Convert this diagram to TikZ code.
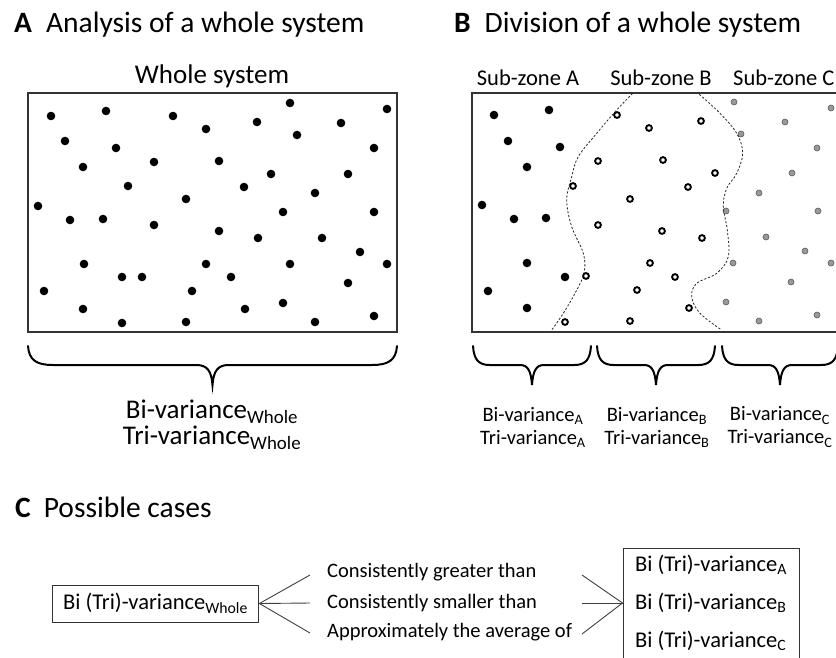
\documentclass[tikz,border=0pt]{standalone}
\usepackage{fontspec}
\setmainfont{Carlito}
\begin{document}
\begin{tikzpicture}[x=1pt,y=-1pt,
	paneltitle/.style={anchor=base west,inner sep=0pt,font=\fontsize{29.5}{33}\selectfont},
	zonelabel/.style={anchor=base,inner sep=0pt,font=\fontsize{22.5}{26}\selectfont},
	zonebox/.style={draw=black!80,line width=1.1pt},
	divider/.style={black!85,line width=.8pt,dash pattern=on 2.2pt off 1.8pt},
	braceline/.style={line width=2pt,line cap=round},
	varbig/.style={align=center,inner sep=0pt,font=\fontsize{27}{26}\selectfont},
	varsmall/.style={align=center,inner sep=0pt,font=\fontsize{20.5}{23}\selectfont},
	casebox/.style={draw=black!80,line width=1pt,font=\fontsize{22.5}{38}\selectfont},
	caselabel/.style={anchor=west,inner sep=0pt,font=\fontsize{20.5}{24}\selectfont},
	link/.style={black!75,line width=.9pt}]
	\useasboundingbox (0,0) rectangle (836,657);
	\clip (0,0) rectangle (836,657);

	\node[paneltitle] (titleA) at (14,32) {\textbf{A}\hspace{14pt}Analysis of a whole system};
	\node[paneltitle] (titleB) at (454,32) {\textbf{B}\hspace{14pt}Division of a whole system};
	\node[paneltitle] (titleC) at (15,517) {\textbf{C}\hspace{13pt}Possible cases};

	\node[zonelabel,font=\fontsize{27}{30}\selectfont] (whole) at (212,83) {Whole system};
	\node[zonelabel] (zoneA) at (528,85) {Sub-zone A};
	\node[zonelabel] (zoneB) at (661,85) {Sub-zone B};
	\node[zonelabel,anchor=base west] (zoneC) at (733,85) {Sub-zone C};

	\draw[zonebox] (28,93) rectangle (397,332);
	\draw[zonebox] (472,93) rectangle (850,332);

	\foreach \x/\y in {51/116,106/111,173/116,290/103,387/109,206/129,257/122,341/123,297/135,
		65/141,116/148,374/148,154/162,219/161,83/167,271/174,348/174,128/186,244/187,315/193,
		186/199,38/206,283/212,374/212,70/220,103/219,154/225,219/231,258/238,322/238,360/252,
		84/264,206/264,290/264,387/264,122/277,142/277,231/277,44/291,192/291,348/283,283/303,
		83/309,245/309,374/316,122/323,186/322,315/322}
		\fill (\x,\y) circle (4.3pt);

	\foreach \x/\y in {494/115,549/110,508/141,560/147,527/167,482/205,514/219,546/218,
		527/263,565/277,488/291,527/308}
		\fill (\x,\y) circle (4.3pt);
	\foreach \x/\y in {617/115,649/128,701/121,598/161,663/160,715/173,573/186,688/187,630/199,
		598/225,662/231,702/238,650/263,586/276,675/277,637/290,689/308,565/322,630/321}
		\draw[line width=1.9pt,fill=white] (\x,\y) circle (2.9pt);
	\foreach \x/\y in {734/102,831/108,785/122,741/134,817/148,792/173,759/193,726/211,818/211,
		766/237,805/251,733/263,831/263,791/282,726/302,759/321,817/315}
		\draw[black!65,line width=.6pt,fill=black!40] (\x,\y) circle (3pt);

	\draw[divider] plot[smooth,tension=.6] coordinates {(632.7,93.3) (616.7,110) (596.7,133.3)
		(578.3,156.7) (571.7,176.7) (566.7,200) (571.7,226.7) (583.3,253.3) (584,273.3)
		(575,293.3) (563.3,313.3) (551.7,330)};
	\draw[divider] plot[smooth,tension=.6] coordinates {(699.3,94.3) (720,113.3) (736.7,133.3)
		(742.7,153.3) (736.7,173.3) (726.7,188.3) (723.3,206.7) (727.3,230) (728.3,256.7)
		(716.7,273.3) (696.7,283.3) (691.7,296.7) (700,313.3) (721.7,330)};

	\foreach \l/\r/\e/\t in {28/397/25/16,473/591/17/12,597/715/17/12,722/838/17/12}{
		\pgfmathsetmacro\m{(\l+\r)/2}
		\draw[braceline] (\l,346) .. controls (\l+1,360) and (\l+\e/3,365) .. (\l+\e,365)
			-- (\m-\t,365) .. controls (\m-\t/3,365) and (\m-1,371) .. (\m,385)
			.. controls (\m+1,371) and (\m+\t/3,365) .. (\m+\t,365)
			-- (\r-\e,365) .. controls (\r-\e/3,365) and (\r-1,360) .. (\r,346);
	}

	\node[varbig] (varWhole) at (212,425) {Bi-variance\textsubscript{Whole}\\Tri-variance\textsubscript{Whole}};
	\node[varsmall] (varA) at (533,427) {Bi-variance\textsubscript{A}\\Tri-variance\textsubscript{A}};
	\node[varsmall] (varB) at (657,427) {Bi-variance\textsubscript{B}\\Tri-variance\textsubscript{B}};
	\node[varsmall] (varC) at (780,427) {Bi-variance\textsubscript{C}\\Tri-variance\textsubscript{C}};

	\node[casebox,minimum height=37pt,inner xsep=11pt] (wholeVar) at (155.5,603.5) {Bi (Tri)-variance\textsubscript{Whole}};
	\node[casebox,align=left,minimum width=176pt,minimum height=110pt] (subVar) at (711,603) {Bi (Tri)-variance\textsubscript{A}\\Bi (Tri)-variance\textsubscript{B}\\Bi (Tri)-variance\textsubscript{C}};

	\node[caselabel] (greater) at (327,572) {Consistently greater than};
	\node[caselabel] (smaller) at (327,603) {Consistently smaller than};
	\node[caselabel] (average) at (327,632) {Approximately the average of};

	\coordinate (greaterL) at (310,575);
	\coordinate (smallerL) at (310,603);
	\coordinate (averageL) at (310,633);
	\coordinate (greaterR) at (582,575);
	\coordinate (smallerR) at (582,603);
	\coordinate (averageR) at (582,634);

	\draw[link] (wholeVar.east) -- (greaterL);
	\draw[link] (wholeVar.east) -- (smallerL);
	\draw[link] (wholeVar.east) -- (averageL);
	\draw[link] (greaterR) -- (subVar.west);
	\draw[link] (smallerR) -- (subVar.west);
	\draw[link] (averageR) -- (subVar.west);
\end{tikzpicture}
\end{document}
